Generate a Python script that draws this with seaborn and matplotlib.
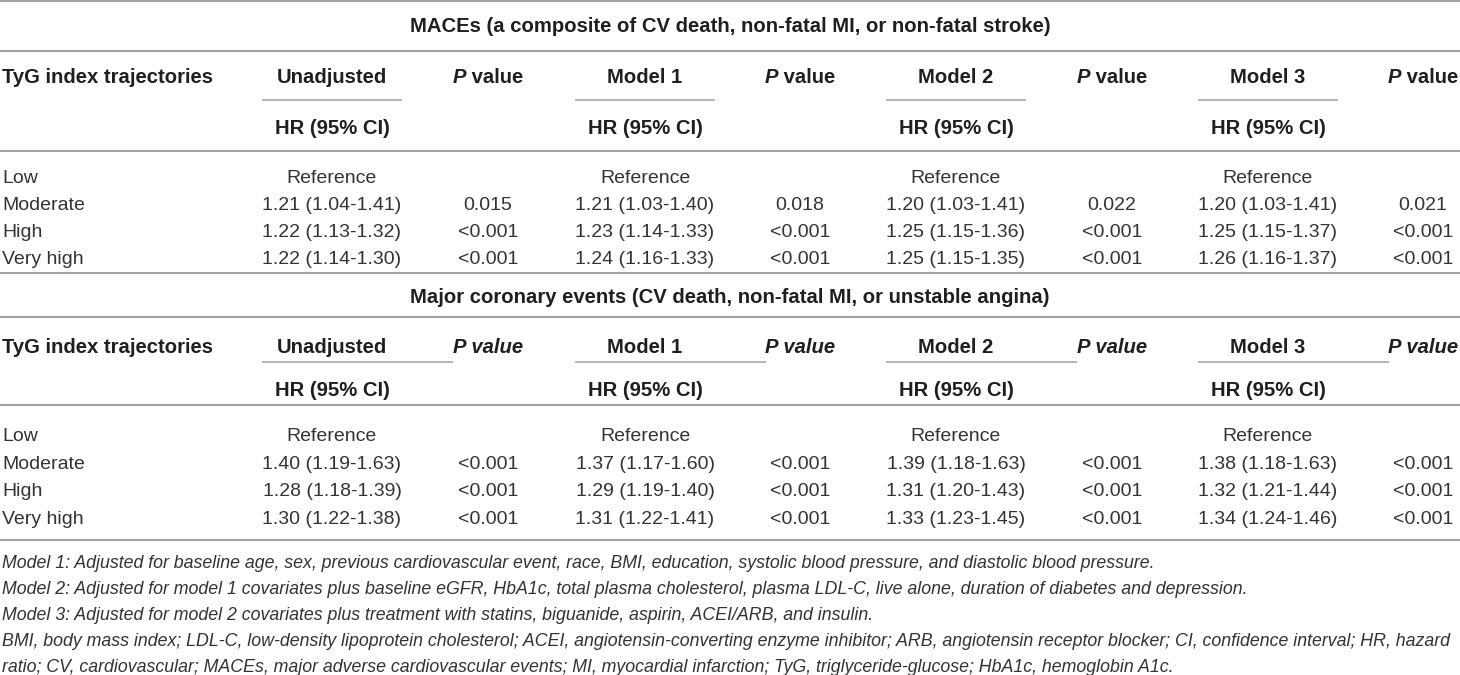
import matplotlib
matplotlib.use("Agg")
import matplotlib.pyplot as plt
import seaborn as sns

# Table content
trajectories = ["Low", "Moderate", "High", "Very high"]
model_names = ["Unadjusted", "Model 1", "Model 2", "Model 3"]

mace_title = "MACEs (a composite of CV death, non-fatal MI, or non-fatal stroke)"
mace_hr = [[1.21, 1.22, 1.22], [1.21, 1.23, 1.24], [1.20, 1.25, 1.25], [1.20, 1.25, 1.26]]
mace_lo = [[1.04, 1.13, 1.14], [1.03, 1.14, 1.16], [1.03, 1.15, 1.15], [1.03, 1.15, 1.16]]
mace_hi = [[1.41, 1.32, 1.30], [1.40, 1.33, 1.33], [1.41, 1.36, 1.35], [1.41, 1.37, 1.37]]
mace_p = [["0.015", "<0.001", "<0.001"], ["0.018", "<0.001", "<0.001"],
          ["0.022", "<0.001", "<0.001"], ["0.021", "<0.001", "<0.001"]]

coro_title = "Major coronary events (CV death, non-fatal MI, or unstable angina)"
coro_hr = [[1.40, 1.28, 1.30], [1.37, 1.29, 1.31], [1.39, 1.31, 1.33], [1.38, 1.32, 1.34]]
coro_lo = [[1.19, 1.18, 1.22], [1.17, 1.19, 1.22], [1.18, 1.20, 1.23], [1.18, 1.21, 1.24]]
coro_hi = [[1.63, 1.39, 1.38], [1.60, 1.40, 1.41], [1.63, 1.43, 1.45], [1.63, 1.44, 1.46]]
coro_p = [["<0.001", "<0.001", "<0.001"]] * 4

footnotes = [
    "Model 1: Adjusted for baseline age, sex, previous cardiovascular event, race, BMI, education, systolic blood pressure, and diastolic blood pressure.",
    "Model 2: Adjusted for model 1 covariates plus baseline eGFR, HbA1c, total plasma cholesterol, plasma LDL-C, live alone, duration of diabetes and depression.",
    "Model 3: Adjusted for model 2 covariates plus treatment with statins, biguanide, aspirin, ACEI/ARB, and insulin.",
    "BMI, body mass index; LDL-C, low-density lipoprotein cholesterol; ACEI, angiotensin-converting enzyme inhibitor; ARB, angiotensin receptor blocker; CI, confidence interval; HR, hazard",
    "ratio; CV, cardiovascular; MACEs, major adverse cardiovascular events; MI, myocardial infarction; TyG, triglyceride-glucose; HbA1c, hemoglobin A1c.",
]

sns.set_theme(style="white")
plt.rcParams["font.family"] = ["Liberation Sans", "DejaVu Sans"]

W, H = 1460, 675
fig = plt.figure(figsize=(W / 100, H / 100), dpi=100)
ax = fig.add_axes([0, 0, 1, 1])
ax.set_xlim(0, W)
ax.set_ylim(H, 0)
ax.axis("off")
renderer = fig.canvas.get_renderer()

FS = 14.0
FS_B = 14.6
TXT = "#333333"
BOLD = "#1f1f1f"
RULE = "#a3a3a3"
hr_x = [332, 645, 956, 1268]
p_x = [488, 800, 1112, 1423]
BASE = 7  # center -> baseline offset


def rule(y, x0=0, x1=W, lw=1.5):
    ax.plot([x0, x1], [y, y], color=RULE, lw=lw, solid_capstyle="butt")


def bold_text(x, y, s, ha="center", style="normal"):
    ax.text(x, y + BASE, s, ha=ha, va="baseline", fontsize=FS_B,
            fontweight="bold", fontstyle=style, color=BOLD)


def mixed_text(xc, y, parts):
    # parts drawn left to right, then centred as one group
    items = []
    pos = 0
    for s, st in parts:
        t = ax.text(pos, y + BASE, s, ha="left", va="baseline", fontsize=FS_B,
                    fontweight="bold", fontstyle=st, color=BOLD)
        w = t.get_window_extent(renderer).width
        items.append((t, pos))
        pos += w
    for t, p0 in items:
        t.set_x(xc - pos / 2 + p0)


def draw_block(title, hr, lo, hi, pv, ys, italic_p, ul_len):
    y_title, y_l1, y_head, y_ul, y_sub, y_l2, rows, y_l3 = ys
    ax.text(730, y_title + BASE, title, ha="center", va="baseline",
            fontsize=FS_B, fontweight="bold", color=BOLD)
    rule(y_l1)
    bold_text(2, y_head, "TyG index trajectories", ha="left")
    for m, name in enumerate(model_names):
        bold_text(hr_x[m], y_head, name)
        rule(y_ul, hr_x[m] - 70, hr_x[m] - 70 + ul_len, lw=1.1)
        bold_text(hr_x[m], y_sub, "HR (95% CI)")
        if italic_p:
            mixed_text(p_x[m], y_head, [("P value", "italic")])
        else:
            mixed_text(p_x[m], y_head, [("P", "italic"), (" value", "normal")])
    rule(y_l2)
    for i, (lab, y) in enumerate(zip(trajectories, rows)):
        ax.text(2, y + BASE, lab, ha="left", va="baseline", fontsize=FS, color=TXT)
        for m in range(len(model_names)):
            if i == 0:
                s = "Reference"
            else:
                s = f"{hr[m][i-1]:.2f} ({lo[m][i-1]:.2f}-{hi[m][i-1]:.2f})"
                ax.text(p_x[m], y + BASE, pv[m][i - 1], ha="center",
                        va="baseline", fontsize=FS, color=TXT)
            ax.text(hr_x[m], y + BASE, s, ha="center", va="baseline",
                    fontsize=FS, color=TXT)
    rule(y_l3)


rule(1)
draw_block(mace_title, mace_hr, mace_lo, mace_hi, mace_p,
           (25, 51, 76, 100, 127, 151, [176, 203, 230, 257], 273), False, 140)
draw_block(coro_title, coro_hr, coro_lo, coro_hi, coro_p,
           (296, 317, 346, 362, 389, 405, [434, 462, 489, 517], 540), True, 191)

for y, s in zip([561, 587, 613, 639, 665], footnotes):
    ax.text(2, y + BASE, s, ha="left", va="baseline", fontsize=12.75,
            fontstyle="italic", color=TXT)

fig.savefig("out.png", dpi=100)
